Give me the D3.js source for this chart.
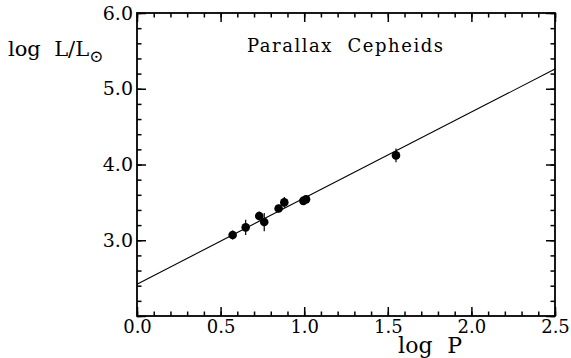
<!DOCTYPE html>
<html><head><meta charset="utf-8">
<script src="https://cdn.jsdelivr.net/npm/d3@7"></script>
<style>body{margin:0;background:#fff}svg{display:block}text{font-family:"DejaVu Serif",serif;fill:#000;white-space:pre}</style>
</head><body>
<script>
const logP   = [0.572, 0.650, 0.731, 0.761, 0.847, 0.881, 0.995, 1.011, 1.549];
const logL   = [3.07, 3.17, 3.32, 3.24, 3.42, 3.50, 3.52, 3.54, 4.12];
const errL   = [0.06, 0.10, 0.06, 0.12, 0.05, 0.07, 0.05, 0.05, 0.09];
const fitSlope = 1.136, fitIntercept = 2.42;
const xTicks = [0.0, 0.5, 1.0, 1.5, 2.0, 2.5];
const yTicks = [3.0, 4.0, 5.0, 6.0];
const yMajorTicks = [2.0, 3.0, 4.0, 5.0, 6.0];

const W = 571, H = 358;
const svg = d3.select("body").append("svg").attr("width", W).attr("height", H);
const x = d3.scaleLinear().domain([0, 2.5]).range([137, 555]);
const y = d3.scaleLinear().domain([2, 6]).range([316, 13]);

const xMinor = d3.range(0, 26).map(i => i / 10);
const yMinor = d3.range(0, 21).map(i => 2 + i / 5);

function addAxis(gen, tx, ty, vals, size, fmt) {
  const a = svg.append("g").attr("transform", `translate(${tx},${ty})`)
    .call(gen.tickValues(vals).tickSize(size).tickPadding(4).tickFormat(fmt || (() => "")));
  a.select(".domain").remove();
  a.selectAll(".tick line").attr("stroke", "#000").attr("stroke-width", 1.5);
  return a;
}
// minor ticks
addAxis(d3.axisBottom(x), 0, y(2), xMinor, -4.5);
addAxis(d3.axisTop(x), 0, y(6), xMinor, -4.5);
addAxis(d3.axisLeft(y), x(0), 0, yMinor, -4.5);
addAxis(d3.axisRight(y), x(2.5), 0, yMinor, -4.5);
// major ticks with labels
const xb = addAxis(d3.axisBottom(x), 0, y(2), xTicks, -9, d3.format(".1f"));
xb.attr("font-size", 18).attr("font-family", null);
addAxis(d3.axisTop(x), 0, y(6), xTicks, -9);
const yla = addAxis(d3.axisLeft(y), x(0), 0, yMajorTicks, -9, d => yTicks.includes(d) ? d3.format(".1f")(d) : "");
yla.attr("font-size", 19).attr("font-family", null);
addAxis(d3.axisRight(y), x(2.5), 0, yMajorTicks, -9);
svg.selectAll(".tick text").attr("fill", "#000");

const g = svg.append("g");
g.append("line")
  .attr("x1", x(0)).attr("y1", y(fitIntercept))
  .attr("x2", x(2.5)).attr("y2", y(fitIntercept + fitSlope * 2.5))
  .attr("stroke", "#000").attr("stroke-width", 1.1);

const pts = logP.map((p, i) => ({p, l: logL[i], e: errL[i]}));
g.selectAll("line.eb").data(pts).join("line").attr("class", "eb")
  .attr("x1", d => x(d.p)).attr("x2", d => x(d.p))
  .attr("y1", d => y(d.l - d.e)).attr("y2", d => y(d.l + d.e))
  .attr("stroke", "#000").attr("stroke-width", 1.2);
g.selectAll("circle.pt").data(pts).join("circle").attr("class", "pt")
  .attr("cx", d => x(d.p)).attr("cy", d => y(d.l)).attr("r", 4.3).attr("fill", "#000");

svg.append("rect").attr("x", x(0)).attr("y", y(6)).attr("width", x(2.5) - x(0)).attr("height", y(2) - y(6))
  .attr("fill", "none").attr("stroke", "#000").attr("stroke-width", 1.8);

const ylab = svg.append("text").attr("x", 8).attr("y", 56).attr("font-size", 21);
ylab.append("tspan").text("log  L/L");
ylab.append("tspan").attr("dy", 6).attr("font-size", 17).text("\u2299");
svg.append("text").attr("x", 398).attr("y", 353).attr("font-size", 22)
  .attr("textLength", 64).attr("lengthAdjust", "spacing").text("log  P");

svg.append("text").attr("x", 247).attr("y", 52).attr("font-size", 18)
  .attr("textLength", 196).attr("lengthAdjust", "spacing").text("Parallax  Cepheids");
</script>
</body></html>
